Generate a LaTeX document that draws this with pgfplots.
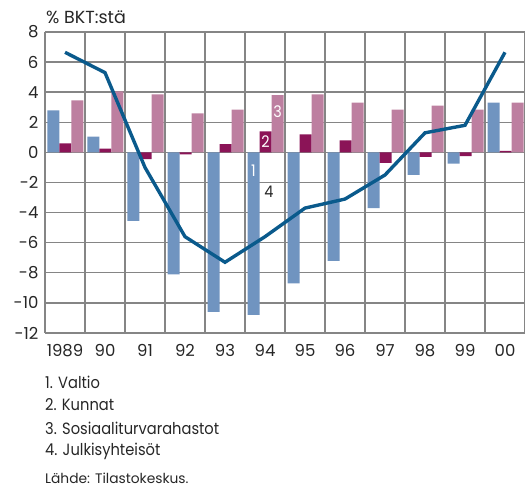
\documentclass[border=0pt]{standalone}
\usepackage{pgfplots}
\pgfplotsset{compat=1.18}
\usepackage{fontspec}
\setmainfont{Poppins}
\newfontfamily\narrow{Poppins}[FakeStretch=0.9]
\definecolor{cblue}{HTML}{7094C0}
\definecolor{cmag}{HTML}{8B1457}
\definecolor{cpink}{HTML}{BD7FA0}
\definecolor{cline}{HTML}{0A5A8C}
\definecolor{cgrid}{HTML}{858585}
\begin{document}
\begin{tikzpicture}[x=1pt,y=1pt]
\useasboundingbox (-45,-154) rectangle (480,333);
\begin{axis}[
  scale only axis, width=480pt, height=301pt,
  at={(0,0)}, anchor=south west,
  xmin=-0.5, xmax=11.5, ymin=-12, ymax=8,
  ytick={-12,-10,...,8},
  xtick={0,...,11},
  xticklabels={1989,90,91,92,93,94,95,96,97,98,99,00},
  minor xtick={-0.5,0.5,...,11.5},
  xminorgrids=true, ymajorgrids=true, xmajorgrids=false,
  grid style={cgrid, line width=1.4pt},
  minor grid style={cgrid, line width=1.4pt},
  axis line style={cgrid, line width=1.4pt},
  axis x line*=bottom, axis y line*=left,
  major tick length=0pt, minor tick length=0pt,
  tick style={draw=none},
  ticklabel style={font=\fontsize{16.5}{18}\selectfont, text=black!85},
  /pgf/number format/assume math mode=true,
  yticklabel style={xshift=-3pt},
  xticklabel style={yshift=-8pt},
  bar width=0.3, clip=true,
]
\addplot[ybar, bar shift=-0.2875, fill=cblue, draw=none] coordinates {
(0,2.8) (1,1.05) (2,-4.55) (3,-8.1) (4,-10.6) (5,-10.8) (6,-8.7) (7,-7.2) (8,-3.7) (9,-1.5) (10,-0.75) (11,3.3)};
\addplot[ybar, bar shift=0.0125, fill=cmag, draw=none] coordinates {
(0,0.6) (1,0.25) (2,-0.45) (3,-0.13) (4,0.55) (5,1.4) (6,1.2) (7,0.8) (8,-0.7) (9,-0.3) (10,-0.25) (11,0.1)};
\addplot[ybar, bar shift=0.3125, fill=cpink, draw=none] coordinates {
(0,3.45) (1,4.05) (2,3.85) (3,2.6) (4,2.85) (5,3.8) (6,3.85) (7,3.3) (8,2.85) (9,3.1) (10,2.85) (11,3.3)};
\addplot[cline, line width=3.4pt, line join=miter, mark=none] coordinates {
(0,6.65) (1,5.3) (2,-1.0) (3,-5.6) (4,-7.3) (5,-5.6) (6,-3.7) (7,-3.1) (8,-1.5) (9,1.3) (10,1.8) (11,6.65)};
\node[text=white, font=\narrow\fontsize{16}{16}\selectfont] at (axis cs:4.7125,-1.2) {1};
\node[text=white, font=\narrow\fontsize{16}{16}\selectfont] at (axis cs:5.0125,0.7) {2};
\node[text=white, font=\narrow\fontsize{16}{16}\selectfont] at (axis cs:5.3125,2.7) {3};
\node[text=black!85, font=\narrow\fontsize{16}{16}\selectfont] at (axis cs:5.1,-2.6) {4};
\end{axis}
\node[anchor=west, inner sep=0pt, text=black!85, font=\fontsize{17.5}{18}\selectfont] at (1,316) {\% BKT:stä};
\node[anchor=west, inner sep=0pt, text=black!85, font=\narrow\fontsize{16.3}{18}\selectfont] at (0,-49) {1. Valtio};
\node[anchor=west, inner sep=0pt, text=black!85, font=\narrow\fontsize{16.3}{18}\selectfont] at (0,-72) {2. Kunnat};
\node[anchor=west, inner sep=0pt, text=black!85, font=\narrow\fontsize{16.3}{18}\selectfont] at (0,-95) {3. Sosiaaliturvarahastot};
\node[anchor=west, inner sep=0pt, text=black!85, font=\narrow\fontsize{16.3}{18}\selectfont] at (0,-118) {4. Julkisyhteisöt};
\node[anchor=west, inner sep=0pt, text=black!85, font=\fontsize{13.8}{14}\selectfont] at (0,-145) {Lähde: Tilastokeskus.};
\end{tikzpicture}
\end{document}
